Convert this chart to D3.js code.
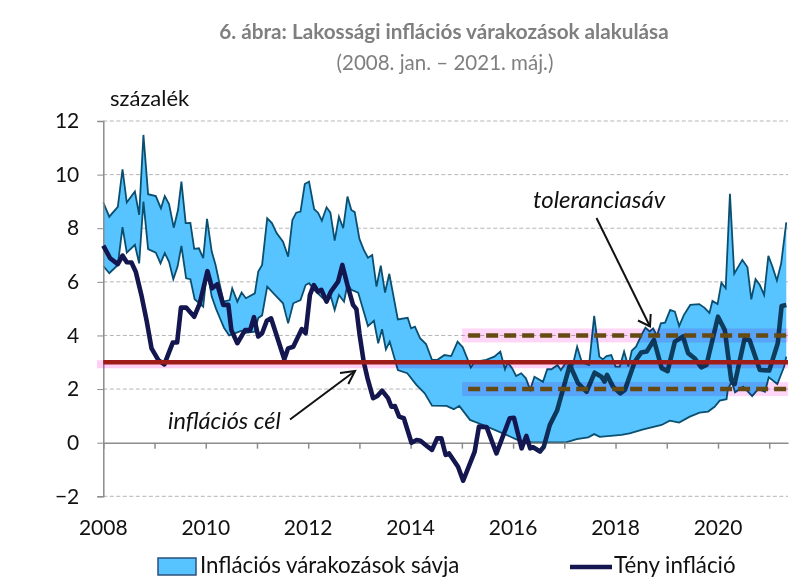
<!DOCTYPE html>
<html>
<head>
<meta charset="utf-8">
<script src="https://cdnjs.cloudflare.com/ajax/libs/d3/7.8.5/d3.min.js"></script>
<style>
body { margin: 0; background: #fff; }
text { font-family: Lato, "Open Sans", sans-serif; fill: #111; }
</style>
</head>
<body>
<div id="chart"></div>
<script>
// months counted from 2008 jan (not every month is readable)
var upperMonths = [0,1.4,3.4,4.5,5.5,7.4,8.4,9.4,10.5,12.3,13.5,14.4,15.4,16.5,17.5,18.3,19.3,20.4,21.3,22.4,23.4,24.3,25.4,26.3,27.3,28.2,29.6,30.2,31.4,32.4,33.4,35.5,36.3,37.2,38.4,39.5,40.6,42.1,43.3,44.3,45.2,46.2,47.2,48.2,49.4,50.3,51.2,52.3,53.2,54.2,55.2,56.2,57.2,58.1,58.9,60,61,62,63,64,65,66,67,69,71.3,72.1,73,74.2,75.6,77,78.3,79.9,81.5,83,84.2,85.4,86.1,87,89.7,91.6,93,94.1,94.7,95.8,96.7,97.9,99,100,101,103,104,105,106.4,107.2,108.4,110,111,112.1,113.8,115,116.2,117,117.9,119,120,121,122,123,123.8,124.8,126.3,127,128,128.8,129.7,130.6,131.6,132.8,133.9,134.9,136,137.5,139.6,140.8,142,142.7,143.9,144.8,145.8,146.8,147.8,149.7,150.9,151.8,152.8,153.8,154.8,155.8,156.7,157.8,158.8,160];
var upperValues = [8.96,8.43,8.8,10.2,8.96,9.37,8.5,11.48,9.27,9.2,8.74,9.2,8.9,8.02,8.68,9.74,8.19,8.2,7.23,7.25,6.88,8.35,7.13,6.63,5.88,5.26,5.32,5.76,5.26,5.6,5.39,5.57,6.38,6.63,8.37,8.19,7.82,7.5,6.94,8.31,8.58,8.62,9.65,9.74,8.71,8.58,8.28,8.78,8.58,7.54,8.43,8,9.18,8.68,8.6,7.6,7.2,6.9,7,5.82,6.6,5.6,6.3,4.6,4.66,4.27,4.33,3.9,3.68,3.09,3.09,3.27,3.23,3.77,3.56,3.09,2.8,3.02,3.09,3.21,3.4,2.74,3,2.77,2.49,2.59,2.4,1.97,2.46,2.27,2.74,2.74,2.9,2.71,3,2.9,3.58,3,2.9,4.73,3.21,3.11,3.23,3.27,2.84,2.84,3.4,2.84,3.43,3.58,4.09,4.29,4.15,4.26,3.99,4.45,4.48,4.95,4.89,4.35,4.76,5.14,5.17,5.04,4.84,5.29,5.17,5.97,5.76,9.28,6.3,6.82,6.54,5.35,6.1,5.88,5.51,6.97,6.59,6.05,6.69,8.22];
var lowerMonths = [0,1.4,3.4,4.5,5.5,7.4,8.4,9.4,10.5,12.3,13.4,14.4,15.4,16.4,17.4,18.3,19.4,20.4,21.4,23.4,24.3,25.4,26.4,27.3,28.3,29.5,30.8,32.4,33.4,35.5,36.3,37.2,38.4,40.6,42.1,43.3,44.5,46.2,47.4,48.2,49.4,52.3,53.3,54.2,55.2,56.4,57.2,58.1,59.7,62,63.4,64.4,65.3,66.2,67.1,69,71.2,73.4,75.3,77,80.4,82.1,83.4,85.9,89,93.6,97.5,100.6,105,108.4,110.9,113.6,115,116.3,121.4,123.3,126.5,130.8,132.7,134.9,137.4,139.7,141.7,143.2,144.4,146,146.3,147.2,148,149.9,152,153.4,155,155.9,157.9,159.5,160];
var lowerValues = [6.59,6.32,6.63,8.04,7.09,7.38,6.69,8.99,7.22,7.09,6.69,7.07,6.75,6.1,6.57,7.34,6.13,6.1,5.35,5.07,6.44,5.45,5,4.65,4.28,4,4.08,4.18,4.1,4.14,4.65,4.75,5.82,5.45,5.2,4.45,5.2,5.32,5.88,5.95,5.7,5.26,5.45,4.95,5.51,5.26,5.92,5.7,5.6,4.35,4.55,3.71,4.23,3.48,3.77,2.71,2.59,2.15,1.84,1.38,1.37,1.25,1.37,0.85,0.66,0.35,0.07,0.01,0.01,0.01,0.13,0.2,0.32,0.22,0.29,0.35,0.5,0.66,0.82,0.75,0.97,1.12,1.16,1.34,1.57,1.62,1.97,2.28,1.88,2.09,1.74,2,1.9,2.44,2.19,2.84,3.21];
var actualMonths = [0,1.6,3.4,4.5,5.5,6.6,7.6,9,10.2,11.3,12.9,14.3,16.3,17.3,18.2,19.4,21.3,22.6,24.4,25.5,26.7,28.1,29.3,30,31.4,33.2,34.4,35.3,36.3,37.2,38.3,39.3,42.4,43.3,44.5,46.5,47.4,48.4,49.3,50.3,51.1,52.3,53.3,55,56,57.2,58.5,59.3,60,61,61.9,63.2,64.2,65.3,66.7,67.5,68.3,69.3,70.4,72.2,73.4,74.3,76,77,78.2,79.2,80.2,81,83.1,84.3,87,88,89.8,92.1,95.2,96.2,98,99.1,100,100.7,102.3,103.2,104.6,106.3,109.3,111.2,113.2,115.1,116.7,117.4,118,119.4,121.1,122.2,124.5,126,127.3,129,130.8,132.2,133.9,135.8,137,138.5,140.1,141.3,144,145.6,147.1,147.9,150.2,151.4,153.8,156,158,158.9,160];
var actualValues = [7.35,6.88,6.66,6.98,6.73,6.72,6.38,5.45,4.51,3.52,3.08,2.92,3.74,3.74,5.04,5.04,4.7,5.2,6.4,5.76,5.91,5.14,5.14,4.2,3.71,4.2,4.2,4.68,3.96,4.08,4.55,4.64,3.11,3.52,3.58,4.24,4.08,5.51,5.88,5.63,5.7,5.26,5.63,6.01,6.63,5.88,5.14,4.98,4.08,3.02,2.4,1.66,1.74,1.94,1.66,1.34,1.37,0.97,0.91,0,0.1,0.07,-0.15,-0.27,0.16,0.16,-0.46,-0.4,-0.9,-1.42,-0.33,0.6,0.58,-0.4,0.91,0.93,-0.21,0.25,-0.21,-0.17,-0.33,-0.15,0.66,1.2,2.9,2.22,1.9,2.61,2.46,2.28,2.53,2.09,1.84,1.97,3.02,3.36,3.4,3.83,2.78,2.67,3.77,3.96,3.34,3.15,2.81,2.9,4.7,4.2,2.34,2.19,3.86,3.83,2.71,2.69,3.71,5.1,5.14];
var yearLabels = [2008,2010,2012,2014,2016,2018,2020];
var yTicks = [-2,0,2,4,6,8,10,12];
var targetValue = 3;
var toleranceValues = [2,4];
var toleranceStart = 85;
var lastMonth = 160.4;

var svg = d3.select('#chart').append('svg')
	.attr('width', 810)
	.attr('height', 587);

var x = d3.scaleLinear().domain([0, lastMonth]).range([103.3, 788]);
var y = d3.scaleLinear().domain([-2, 12]).range([496.3, 121]);

// gridlines
svg.selectAll('.grid')
	.data(yTicks.filter(function(d){ return d != 0; }))
	.enter().append('line')
		.attr('x1', x(0)).attr('x2', x(lastMonth))
		.attr('y1', function(d){ return y(d); })
		.attr('y2', function(d){ return y(d); })
		.attr('stroke', '#b5b5b5')
		.attr('stroke-width', 1)
		.attr('stroke-dasharray', '4,2.5');

// band
var line = d3.line()
	.x(function(d){ return x(d[0]); })
	.y(function(d){ return y(d[1]); });
var upper = upperMonths.map(function(m, i){ return [m, upperValues[i]]; });
var lower = lowerMonths.map(function(m, i){ return [m, lowerValues[i]]; });
var actual = actualMonths.map(function(m, i){ return [m, actualValues[i]]; });

svg.append('path')
	.attr('d', line(upper.concat(lower.slice().reverse())) + 'Z')
	.attr('fill', '#57c3ff')
	.attr('stroke', 'none');
svg.append('path').attr('d', line(upper))
	.attr('fill', 'none').attr('stroke', '#0b4f70').attr('stroke-width', 1.8);
svg.append('path').attr('d', line(lower))
	.attr('fill', 'none').attr('stroke', '#0b4f70').attr('stroke-width', 1.8);

// axes
var yAxis = d3.axisLeft(y).tickValues(yTicks).tickSize(6).tickPadding(18).tickFormat(d3.format('d'));
var gy = svg.append('g').attr('transform', 'translate(' + x(0) + ',0)').call(yAxis);
gy.select('.domain').attr('stroke', '#8c8c8c').attr('stroke-width', 1.5);
gy.selectAll('line').attr('stroke', '#8c8c8c');
gy.selectAll('text').attr('font-size', 21).style('font-family', 'Lato').attr('fill', '#111');

var monthTicks = d3.range(0, 161, 12);
var xAxis = d3.axisBottom(x).tickValues(monthTicks).tickSize(6).tickSizeOuter(0).tickFormat('');
var gx = svg.append('g').attr('transform', 'translate(0,' + y(0) + ')').call(xAxis);
gx.select('.domain').attr('stroke', '#8c8c8c').attr('stroke-width', 1.5);
gx.selectAll('line').attr('stroke', '#8c8c8c').attr('stroke-width', 1.5);

svg.selectAll('.year')
	.data(yearLabels)
	.enter().append('text')
		.attr('x', function(d){ return x((d - 2008) * 12); })
		.attr('y', 535)
		.attr('text-anchor', 'middle')
		.attr('font-size', 21)
		.text(function(d){ return d; });

// actual inflation, looks teal where it lies inside the band on the right
var grad = svg.append('defs').append('linearGradient')
	.attr('id', 'actualColor')
	.attr('gradientUnits', 'userSpaceOnUse')
	.attr('x1', 0).attr('x2', 810).attr('y1', 0).attr('y2', 0);
grad.append('stop').attr('offset', 0.66).attr('stop-color', '#14174f');
grad.append('stop').attr('offset', 0.69).attr('stop-color', '#0d3c5c');
svg.append('path').attr('d', line(actual))
	.attr('fill', 'none')
	.attr('stroke', 'url(#actualColor)')
	.attr('stroke-width', 4.6)
	.attr('stroke-linejoin', 'round');

// pink halos round the target lines
svg.append('rect')
	.attr('x', 97).attr('width', 691)
	.attr('y', y(targetValue) - 2).attr('height', 8)
	.attr('fill', '#ffd0f6').style('mix-blend-mode', 'multiply');
svg.selectAll('.halo')
	.data(toleranceValues)
	.enter().append('rect')
		.attr('x', x(toleranceStart) - 4).attr('width', 788 - x(toleranceStart) + 4)
		.attr('y', function(d){ return y(d) - 7; })
		.attr('height', 14)
		.attr('fill', '#ffd6f8').style('mix-blend-mode', 'multiply');

svg.append('line')
	.attr('x1', x(0)).attr('x2', x(lastMonth))
	.attr('y1', y(targetValue)).attr('y2', y(targetValue))
	.attr('stroke', '#a01c18').attr('stroke-width', 4.4);
svg.selectAll('.tol')
	.data(toleranceValues)
	.enter().append('line')
		.attr('x1', x(toleranceStart) + 2).attr('x2', x(lastMonth))
		.attr('y1', function(d){ return y(d); })
		.attr('y2', function(d){ return y(d); })
		.attr('stroke', '#654a14')
		.attr('stroke-width', 4.6)
		.attr('stroke-dasharray', '12,6');

// annotations
function arrow(points) {
	svg.append('path')
		.attr('d', d3.line()(points))
		.attr('fill', 'none')
		.attr('stroke', '#111')
		.attr('stroke-width', 2);
}
arrow([[596.5,218],[650,326.5]]);
arrow([[638,320.5],[650,326.5],[650.7,314]]);
arrow([[290,419.5],[355,371]]);
arrow([[340,373],[355,371],[348.3,384]]);

svg.append('text').attr('x', 533).attr('y', 208)
	.attr('font-size', 24).attr('font-style', 'italic').text('toleranciasáv');
svg.append('text').attr('x', 168).attr('y', 429)
	.attr('font-size', 23.5).attr('font-style', 'italic').text('inflációs cél');

// titles
svg.append('text').attr('x', 444).attr('y', 39)
	.attr('text-anchor', 'middle').attr('font-size', 20.7).attr('font-weight', 'bold')
	.style('fill', '#7f7f7f').text('6. ábra: Lakossági inflációs várakozások alakulása');
svg.append('text').attr('x', 445).attr('y', 70)
	.attr('text-anchor', 'middle').attr('font-size', 20.5)
	.style('fill', '#7f7f7f').text('(2008. jan. – 2021. máj.)');
svg.append('text').attr('x', 110).attr('y', 106)
	.attr('font-size', 22).text('százalék');

// legend
svg.append('rect')
	.attr('x', 158).attr('y', 558).attr('width', 38).attr('height', 17)
	.attr('fill', '#57c3ff').attr('stroke', '#2c4f7c').attr('stroke-width', 1.5);
svg.append('text').attr('x', 200).attr('y', 573)
	.attr('font-size', 22.3).text('Inflációs várakozások sávja');
svg.append('line')
	.attr('x1', 570).attr('x2', 612).attr('y1', 567).attr('y2', 567)
	.attr('stroke', '#14174f').attr('stroke-width', 4.4);
svg.append('text').attr('x', 614).attr('y', 573)
	.attr('font-size', 22.3).text('Tény infláció');
</script>
</body>
</html>
